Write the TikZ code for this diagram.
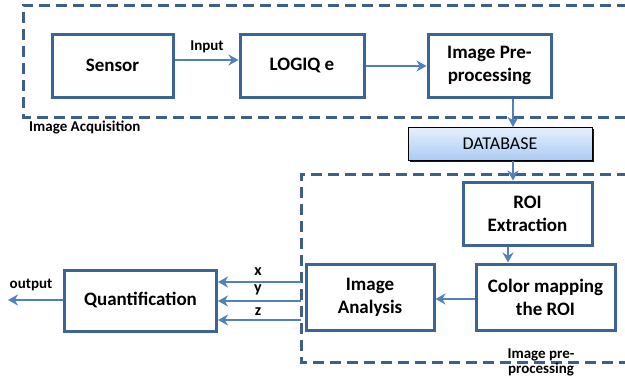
\documentclass[tikz,border=0pt]{standalone}
\usepackage{fontspec}
\setmainfont{Carlito}
\usetikzlibrary{arrows.meta,shadows}
\definecolor{boxc}{HTML}{3B6497}
\definecolor{arrc}{HTML}{4F81BD}
\definecolor{dashc}{HTML}{3E5F8E}
\definecolor{dbtop}{HTML}{E6F0FC}
\definecolor{dbbot}{HTML}{A9CBF5}
\begin{document}
\begin{tikzpicture}[x=1pt,y=-1pt,
  blk/.style={draw=boxc,line width=3pt,fill=white,align=center,font=\bfseries\fontsize{19}{23}\selectfont,inner sep=0pt},
  conn/.style={draw=arrc,line width=2.8pt,-{Stealth[length=10pt,width=11pt]}},
  grp/.style={draw=dashc,line width=3pt,dash pattern=on 11pt off 6pt},
  lbl/.style={font=\bfseries\fontsize{15}{15}\selectfont,inner sep=0pt,align=center}]
\useasboundingbox (0,0) rectangle (625,376);
\clip (0,0) rectangle (625,376);
% group frames
\draw[grp] (645,5) -- (23,5) -- (23,117) -- (645,117);
\draw[grp] (645,174) -- (301,174) -- (301,362) -- (645,362);
% blocks
\node[blk,minimum width=121pt,minimum height=63pt] (sensor) at (112.5,65.5) {Sensor};
\node[blk,minimum width=124pt,minimum height=63pt] (logiq) at (302,65.5) {LOGIQ e};
\node[blk,minimum width=123pt,minimum height=63pt] (pre) at (489.5,65.5) {Image Pre-\\processing};
\node[draw=black,line width=1pt,minimum width=184pt,minimum height=33pt,inner sep=0pt,
  top color=dbtop,bottom color=dbbot,drop shadow={shadow xshift=1.5pt,shadow yshift=-1.5pt,fill=black,opacity=0.9},
  font=\fontsize{18}{20}\selectfont] (db) at (500,144) {DATABASE};
\node[blk,minimum width=129pt,minimum height=63pt] (roi) at (527.5,213.5) {ROI\\Extraction};
\node[blk,minimum width=139pt,minimum height=66pt] (cmap) at (545.5,297) {Color mapping\\the ROI};
\node[blk,minimum width=128pt,minimum height=66pt] (ana) at (370,297) {Image\\Analysis};
\node[blk,minimum width=152pt,minimum height=61pt] (quant) at (140.5,300.5) {Quantification};
% connectors
\draw[conn] (sensor.east |- 0,60) -- (logiq.west |- 0,60);
\node[lbl] (inp) at (207,47) {Input};
\draw[conn] (logiq.east |- 0,66) -- (pre.west |- 0,66);
\draw[conn] (pre.south -| 513,0) -- (db.north -| 513,0);
\draw[conn] (db.south -| 513,0) -- (roi.north -| 513,0);
\draw[conn] (roi.south -| 508,0) -- (cmap.north -| 508,0);
\draw[conn] (cmap.west |- 0,299) -- (ana.east |- 0,299);
\coordinate (sx) at (301,282);
\coordinate (sy) at (301,301);
\coordinate (sz) at (301,320);
\draw[conn] (sx) -- (quant.east |- sx);
\draw[conn] (sy) -- (quant.east |- sy);
\draw[conn] (sz) -- (quant.east |- sz);
\node[lbl,font=\bfseries\fontsize{16}{16}\selectfont] (lx) at (258,272) {x};
\node[lbl,font=\bfseries\fontsize{16}{16}\selectfont] (ly) at (258,290) {y};
\node[lbl,font=\bfseries\fontsize{16}{16}\selectfont] (lz) at (258,312) {z};
\coordinate (outend) at (8,300);
\draw[conn] (quant.west |- outend) -- (outend);
\node[lbl] (outl) at (31,285) {output};
\node[lbl,anchor=west] (acq) at (29,127) {Image Acquisition};
\node[lbl] (ipp) at (541,362) {Image pre-\\processing};
\end{tikzpicture}
\end{document}
